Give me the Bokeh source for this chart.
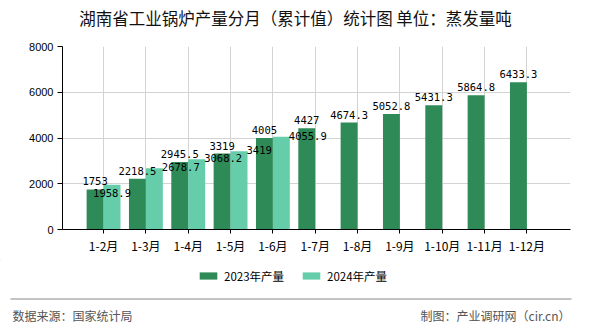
from bokeh.plotting import figure
from bokeh.layouts import column, row
from bokeh.models import (FixedTicker, Legend, LegendItem, ColumnDataSource, Range1d)
from bokeh.transform import dodge
from bokeh.embed import file_html
from bokeh.resources import INLINE
from bokeh.core.properties import value

# ---------------- data ----------------
months = ["1-2月", "1-3月", "1-4月", "1-5月", "1-6月", "1-7月",
          "1-8月", "1-9月", "1-10月", "1-11月", "1-12月"]
output_2023 = [1753, 2218.5, 2945.5, 3319, 4005, 4427, 4674.3, 5052.8, 5431.3, 5864.8, 6433.3]
output_2024 = [1958.9, 2678.7, 3068.2, 3419, 4055.9]
y_ticks = [0, 2000, 4000, 6000, 8000]
series_names = ["2023年产量", "2024年产量"]
title_text = "湖南省工业锅炉产量分月（累计值）统计图 单位：蒸发量吨"
source_text = "数据来源：国家统计局"
credit_text = "制图：产业调研网（cir.cn）"
label_mode_2024 = ["below", "right", "right", "right", "right"]

# ---------------- style ----------------
colors = ["#2E8B57", "#66CDAA"]
CJK = "Noto Sans CJK SC"
MONO = "DejaVu Sans Mono"
W = 590
HEAD_H = 36
MAIN_TOP, FRAME_H, MAIN_BOTTOM = 10, 183, 31
FOOT_H = 70
BL, BR = 62, 20
BAR_W = 0.4


def blank_fig(h):
    f = figure(width=W, height=h, output_backend="svg", toolbar_location=None,
               title=None, x_axis_location=None, y_axis_location=None,
               x_range=Range1d(0, W), y_range=Range1d(h, 0),
               min_border_left=0, min_border_right=0, min_border_top=0,
               min_border_bottom=0)
    f.grid.visible = False
    f.outline_line_color = None
    return f


# ---------------- header (title) ----------------
head = blank_fig(HEAD_H)
head.text(x=[W / 2], y=[17.5], text=[title_text], text_align="center",
          text_baseline="middle", text_font=value(CJK), text_font_size="16.5px",
          text_color="#111111")

# ---------------- main chart ----------------
x_idx = list(range(1, len(months) + 1))

p = figure(width=W, height=MAIN_TOP + FRAME_H + MAIN_BOTTOM, output_backend="svg",
           toolbar_location=None, title=None,
           x_range=Range1d(0.03, len(months) + 1.03), y_range=Range1d(0, 8000),
           min_border_left=BL, min_border_right=BR, min_border_top=MAIN_TOP,
           min_border_bottom=MAIN_BOTTOM)
p.outline_line_color = None

p.xaxis.ticker = FixedTicker(ticks=x_idx)
p.xaxis.major_label_overrides = {i: m for i, m in zip(x_idx, months)}
p.xaxis.major_tick_out = 4
p.xaxis.major_tick_in = 0
p.xaxis.minor_tick_line_color = None
p.xaxis.axis_line_color = "black"
p.xaxis.major_tick_line_color = "black"
p.xaxis.major_label_standoff = 3
p.xaxis.major_label_text_font = CJK
p.xaxis.major_label_text_font_size = "12px"
p.xaxis.major_label_text_color = "black"

p.yaxis.ticker = FixedTicker(ticks=y_ticks)
p.yaxis.major_tick_out = 5
p.yaxis.major_tick_in = 0
p.yaxis.minor_tick_line_color = None
p.yaxis.axis_line_color = "black"
p.yaxis.major_tick_line_color = "black"
p.yaxis.major_label_standoff = 4
p.yaxis.major_label_text_font = "Liberation Sans"
p.yaxis.major_label_text_font_size = "11px"
p.yaxis.major_label_text_color = "black"

p.xgrid.grid_line_color = "#d3d3d3"
p.ygrid.grid_line_color = "#d3d3d3"

src23 = ColumnDataSource(dict(x=x_idx, v=output_2023,
                              t=[f"{v:g}" for v in output_2023]))
src24 = ColumnDataSource(dict(x=x_idx[:len(output_2024)], v=output_2024,
                              t=[f"{v:g}" for v in output_2024]))

p.vbar(x=dodge("x", -BAR_W / 2, range=p.x_range), top="v", width=BAR_W,
       source=src23, fill_color=colors[0], line_color=None)
p.vbar(x=dodge("x", BAR_W / 2, range=p.x_range), top="v", width=BAR_W,
       source=src24, fill_color=colors[1], line_color=None)

p.text(x=dodge("x", -BAR_W / 2, range=p.x_range), y="v", text="t", source=src23,
       text_align="center", text_baseline="alphabetic", y_offset=-8,
       text_font=value(MONO), text_font_size="10.5px", text_color="black")

below = [i for i, m in enumerate(label_mode_2024) if m == "below"]
right = [i for i, m in enumerate(label_mode_2024) if m == "right"]
src24b = ColumnDataSource(dict(x=[src24.data["x"][i] for i in below],
                               v=[output_2024[i] for i in below],
                               t=[src24.data["t"][i] for i in below]))
src24r = ColumnDataSource(dict(x=[src24.data["x"][i] for i in right],
                               v=[output_2024[i] for i in right],
                               t=[src24.data["t"][i] for i in right]))
p.text(x=dodge("x", BAR_W / 2, range=p.x_range), y="v", text="t", source=src24b,
       text_align="center", text_baseline="top", y_offset=4,
       text_font=value(MONO), text_font_size="10.5px", text_color="black")
p.text(x=dodge("x", BAR_W, range=p.x_range), y="v", text="t", source=src24r,
       text_align="left", text_baseline="middle", x_offset=-1, y_offset=-1,
       text_font=value(MONO), text_font_size="10.5px", text_color="black")

# ---------------- footer (legend, rule, credits) ----------------
foot = blank_fig(FOOT_H)
# legend proxies: drawn outside the visible ranges, only their legend swatches show
lg1 = foot.vbar(x=[-100], top=[-100], bottom=[-101], width=1,
                fill_color=colors[0], line_color=None)
lg2 = foot.vbar(x=[-100], top=[-100], bottom=[-101], width=1,
                fill_color=colors[1], line_color=None)
legend = Legend(items=[LegendItem(label=series_names[0], renderers=[lg1]),
                       LegendItem(label=series_names[1], renderers=[lg2])],
                location=(197, FOOT_H - 23.5), orientation="horizontal",
                glyph_width=22, glyph_height=9, label_height=12, label_width=10,
                label_standoff=5, spacing=16, padding=0, margin=0,
                border_line_color=None, background_fill_alpha=0,
                label_text_font=CJK, label_text_font_size="11.5px",
                label_text_color="black", label_text_baseline="middle")
foot.add_layout(legend)
foot.segment(x0=[10], y0=[38.5], x1=[571], y1=[38.5], line_color="#888888",
             line_width=1)
foot.text(x=[12], y=[55], text=[source_text], text_align="left",
          text_baseline="middle", text_font=value(CJK), text_font_size="12px",
          text_color="#555555")
foot.text(x=[570], y=[55], text=[credit_text], text_align="right",
          text_baseline="middle", text_font=value(CJK), text_font_size="12px",
          text_color="#555555")

layout = column(head, row(p, spacing=0), foot, spacing=0)
open("out.html", "w").write(file_html(layout, INLINE))
